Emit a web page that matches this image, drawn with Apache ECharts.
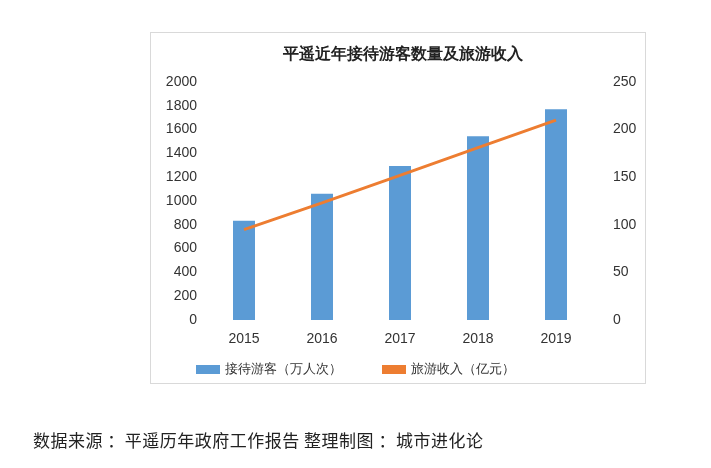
<!DOCTYPE html>
<html>
<head>
<meta charset="utf-8">
<script src="https://cdn.jsdelivr.net/npm/echarts@6/dist/echarts.min.js"></script>
<style>
body{margin:0;background:#fff;font-family:"Noto Sans CJK SC",sans-serif;}
#frame{position:absolute;left:150px;top:32px;width:494px;height:350px;border:1px solid #d9d9d9;}
#chart{position:absolute;left:0;top:0;width:711px;height:468px;}
#src{position:absolute;left:33px;top:427px;font-size:17px;color:#222;letter-spacing:0.5px;}
</style>
</head>
<body>
<div id="frame"></div>
<div id="chart"></div>
<div id="src">数据来源 ：平遥历年政府工作报告 整理制图 ：城市进化论</div>
<script>
// 年份
const years = ['2015', '2016', '2017', '2018', '2019']
// 接待游客（万人次）
const visitors = [835, 1060, 1295, 1545, 1770]
// 旅游收入（亿元）
const income = [95, 123, 152, 181, 210]

let myChart = echarts.init(document.getElementById('chart'))
let axisLabel = { fontSize: 14, color: '#333', fontFamily: 'Liberation Sans', formatter: v => String(v) }
myChart.setOption({
    animation: false,
    title: {
        text: '平遥近年接待游客数量及旅游收入',
        left: 398, top: 42, textAlign: 'center',
        textStyle: { fontSize: 16, fontWeight: 'bold', color: '#222' }
    },
    legend: {
        top: 358, left: 'center',
        itemGap: 40, itemWidth: 24, itemHeight: 9,
        textStyle: { fontSize: 13, color: '#333' },
        data: [
            { name: '接待游客（万人次）', icon: 'rect' },
            { name: '旅游收入（亿元）', icon: 'rect', itemStyle: { color: '#ed7d31' } }
        ]
    },
    grid: { left: 205, right: 116, top: 82, bottom: 148 },
    xAxis: {
        type: 'category', data: years,
        axisTick: { show: false },
        axisLine: { show: false },
        axisLabel: Object.assign({ margin: 12 }, axisLabel)
    },
    yAxis: [
        { type: 'value', min: 0, max: 2000, interval: 200,
          splitLine: { show: false }, axisLabel: axisLabel },
        { type: 'value', min: 0, max: 250, interval: 50,
          splitLine: { show: false }, axisLabel: Object.assign({}, axisLabel, { margin: 18 }) }
    ],
    series: [
        { name: '接待游客（万人次）', type: 'bar', data: visitors, barWidth: 22,
          itemStyle: { color: '#5b9bd5' } },
        { name: '旅游收入（亿元）', type: 'line', yAxisIndex: 1, data: income,
          symbol: 'none', lineStyle: { color: '#ed7d31', width: 3 },
          itemStyle: { color: '#ed7d31' } }
    ]
})
</script>
</body>
</html>
